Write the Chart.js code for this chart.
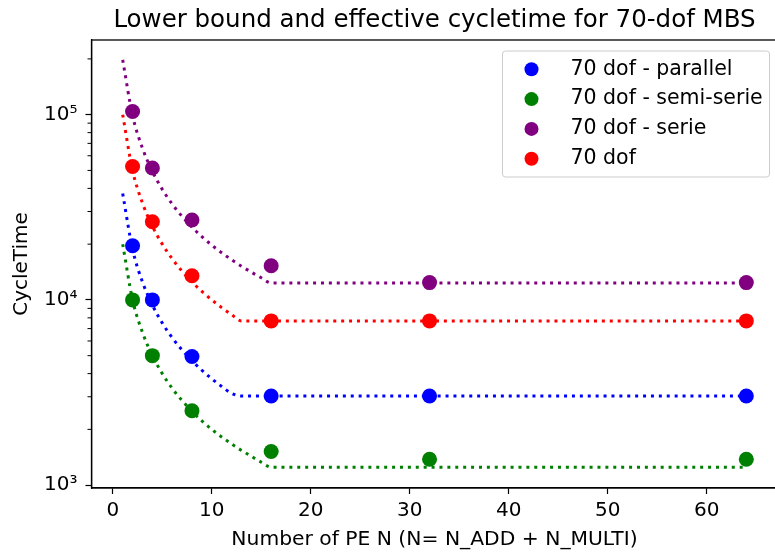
<!DOCTYPE html>
<html>
<head>
<meta charset="utf-8">
<script src="https://cdn.jsdelivr.net/npm/chart.js@4/dist/chart.umd.min.js"></script>
<style>
  html, body { margin: 0; padding: 0; background: #fff; overflow: hidden; }
  #wrap { width: 785px; height: 558px; }
</style>
</head>
<body>
<div id="wrap"><canvas id="chart" width="785" height="558"></canvas></div>
<script>
// measured cycle times
const peCounts = [2, 4, 8, 16, 32, 64];
const parallelTime = [19600, 10000, 4950, 3030, 3030, 3030];
const semiSerieTime = [10000, 5000, 2520, 1520, 1380, 1380];
const serieTime = [104000, 51500, 27000, 15300, 12400, 12400];
const plainTime = [52500, 26400, 13500, 7700, 7700, 7700];

// lower bounds (dotted)
const boundPE = [1, 2, 3, 4, 5, 6, 7, 8, 9, 10, 11, 12, 13, 14, 15, 16, 64];
const parallelBound = [37500, 18750, 12500, 9380, 7500, 6250, 5360, 4690, 4170, 3750, 3410, 3130, 3030, 3030, 3030, 3030, 3030];
const semiSerieBound = [20000, 10000, 6670, 5000, 4000, 3330, 2860, 2500, 2220, 2000, 1820, 1670, 1540, 1430, 1330, 1250, 1250];
const serieBound = [197600, 98800, 65870, 49400, 39520, 32930, 28230, 24700, 21960, 19760, 17960, 16470, 15200, 14110, 13170, 12350, 12350];
const plainBound = [100000, 50000, 33330, 25000, 20000, 16670, 14290, 12500, 11110, 10000, 9090, 8330, 7700, 7700, 7700, 7700, 7700];

const xTickValues = [0, 10, 20, 30, 40, 50, 60];
const yMajorTicks = [1000, 10000, 100000];
const yTickLabels = ['10³', '10⁴', '10⁵'];
const yMinorTicks = [2000, 3000, 4000, 5000, 6000, 7000, 8000, 9000,
  20000, 30000, 40000, 50000, 60000, 70000, 80000, 90000, 200000];

const FONT = 'DejaVu Sans';

const series = [
  { label: '70 dof - parallel', color: '#0000ff', times: parallelTime, bound: parallelBound },
  { label: '70 dof - semi-serie', color: '#008000', times: semiSerieTime, bound: semiSerieBound },
  { label: '70 dof - serie', color: '#800080', times: serieTime, bound: serieBound },
  { label: '70 dof', color: '#ff0000', times: plainTime, bound: plainBound }
];

const toPoints = (xs, ys) => xs.map((x, i) => ({ x: x, y: ys[i] }));

const datasets = [];
series.forEach(s => {
  datasets.push({
    label: s.label,
    data: toPoints(peCounts, s.times),
    backgroundColor: s.color,
    borderWidth: 0,
    pointRadius: 7.5,
    pointHoverRadius: 7.5,
    showLine: false,
    order: 1
  });
});
series.forEach(s => {
  datasets.push({
    label: s.label + ' bound',
    isBound: true,
    data: toPoints(boundPE, s.bound),
    borderColor: s.color,
    borderWidth: 3,
    borderDash: [3, 4.9],
    pointRadius: 0,
    showLine: true,
    cubicInterpolationMode: 'monotone',
    fill: false,
    order: 2
  });
});

const framePlugin = {
  id: 'frame',
  afterDraw(chart) {
    const { ctx, chartArea: a } = chart;
    ctx.save();
    ctx.strokeStyle = '#000';
    ctx.lineWidth = 1.3;
    ctx.strokeRect(a.left, a.top, a.right - a.left, a.bottom - a.top);
    // minor ticks on the log axis
    const y = chart.scales.y;
    ctx.lineWidth = 1;
    yMinorTicks.forEach(v => {
      const py = y.getPixelForValue(v);
      ctx.beginPath();
      ctx.moveTo(a.left - 4, py);
      ctx.lineTo(a.left, py);
      ctx.stroke();
    });
    ctx.restore();
  }
};

const legendPlugin = {
  id: 'insideLegend',
  afterDraw(chart) {
    const { ctx, chartArea: a } = chart;
    const items = chart.data.datasets.filter(d => !d.isBound);
    const boxW = 267, rowH = 29.8, boxH = 126;
    const left = a.right - 8 - boxW, top = a.top + 11;
    ctx.save();
    ctx.beginPath();
    ctx.roundRect(left, top, boxW, boxH, 3);
    ctx.fillStyle = 'rgba(255,255,255,0.8)';
    ctx.fill();
    ctx.strokeStyle = '#cccccc';
    ctx.lineWidth = 1;
    ctx.stroke();
    ctx.font = '20.5px "' + FONT + '"';
    ctx.textBaseline = 'middle';
    items.forEach((d, i) => {
      const cy = top + 18.3 + i * rowH;
      ctx.beginPath();
      ctx.arc(left + 29, cy, 7, 0, Math.PI * 2);
      ctx.fillStyle = d.backgroundColor;
      ctx.fill();
      ctx.fillStyle = '#000';
      ctx.fillText(d.label, left + 68, cy);
    });
    ctx.restore();
  }
};

new Chart(document.getElementById('chart'), {
  type: 'scatter',
  data: { datasets: datasets },
  plugins: [framePlugin, legendPlugin],
  options: {
    responsive: false,
    animation: false,
    layout: { padding: { left: 0, right: 4, top: 0, bottom: 0 } },
    plugins: {
      legend: { display: false },
      tooltip: { enabled: false },
      title: {
        display: true,
        fullSize: false,
        text: 'Lower bound and effective cycletime for 70-dof MBS',
        color: '#000',
        font: { family: FONT, size: 24.5, weight: 'normal' },
        padding: { top: 6, bottom: 4.6 }
      }
    },
    scales: {
      x: {
        type: 'linear',
        min: -2.15,
        max: 67.15,
        afterBuildTicks: s => { s.ticks = xTickValues.map(v => ({ value: v })); },
        afterFit: s => { s.height = 70; },
        grid: { display: true, drawOnChartArea: false, tickLength: 6, tickColor: '#000', tickWidth: 1.2 },
        border: { display: true, color: '#000', width: 1.3 },
        ticks: {
          color: '#000',
          font: { family: FONT, size: 20 },
          padding: 5,
          autoSkip: false,
          maxRotation: 0,
          callback: v => String(v)
        },
        title: {
          display: true,
          text: 'Number of PE N (N= N_ADD + N_MULTI)',
          color: '#000',
          font: { family: FONT, size: 20.3 },
          padding: { top: 6, bottom: 6 }
        }
      },
      y: {
        type: 'logarithmic',
        min: 965,
        max: 253000,
        afterBuildTicks: s => { s.ticks = yMajorTicks.map(v => ({ value: v, major: true })); },
        afterFit: s => { s.width = 91.5; },
        grid: { display: true, drawOnChartArea: false, tickLength: 6, tickColor: '#000', tickWidth: 1.2 },
        border: { display: true, color: '#000', width: 1.3 },
        ticks: {
          color: '#000',
          font: { family: FONT, size: 20 },
          padding: 8,
          autoSkip: false,
          callback: v => {
            const i = yMajorTicks.indexOf(v);
            return i >= 0 ? yTickLabels[i] : '';
          }
        },
        title: {
          display: true,
          text: 'CycleTime',
          color: '#000',
          font: { family: FONT, size: 20 },
          padding: { top: 10, bottom: 10 }
        }
      }
    }
  }
});
</script>
</body>
</html>
